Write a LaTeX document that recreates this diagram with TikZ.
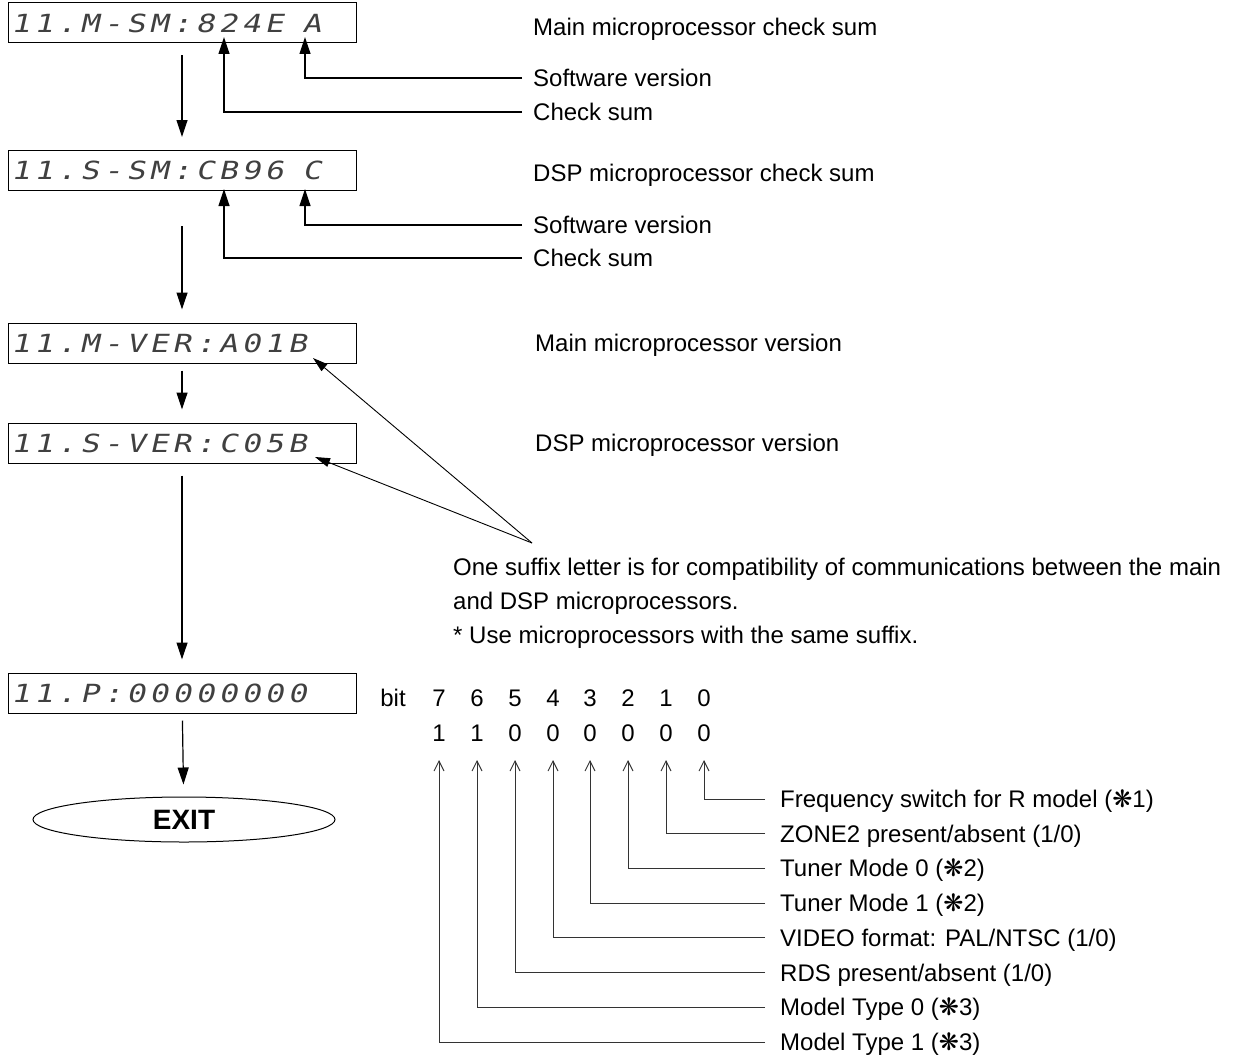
\documentclass[tikz,border=0pt]{standalone}
\usepackage{fontspec}
\setmainfont{Liberation Sans}
\newfontfamily\lcdfont[LetterSpace=17,FakeSlant=0.22,FakeStretch=1.25]{DejaVu Sans Mono}
\newfontfamily\symfont{DejaVu Sans}
\usetikzlibrary{arrows.meta,shapes.geometric}
\newcommand{\propast}{{\symfont\fontsize{24}{24}\selectfont ❋}}
\newcommand{\lcdgap}{\phantom{0}}
\begin{document}
\begin{tikzpicture}[x=1pt,y=-1pt,
  lcdbox/.style={draw, line width=1pt, minimum width=348pt, minimum height=40pt,
    text width=342pt, inner xsep=3pt, inner ysep=0pt, align=left,
    font=\lcdfont\fontsize{25}{25}\selectfont, text=black!75},
  lbl/.style={anchor=west, inner sep=0pt, font=\fontsize{24}{28}\selectfont,
    text height=17pt, text depth=0pt},
  num/.style={inner sep=0pt, font=\fontsize{24}{28}\selectfont,
    text height=17pt, text depth=0pt},
  flow/.style={line width=1.2pt, -{Triangle[length=17pt,width=11pt]}},
  callout/.style={line width=1.2pt, -{Triangle[length=17pt,width=11pt]}},
  diag/.style={line width=0.9pt, -{Triangle[length=15pt,width=9pt]}},
  bitline/.style={line width=0.9pt, draw=black!80, -{Straight Barb[length=10pt,width=10pt]}}
]
\useasboundingbox (0,0) rectangle (1233,1057);

% display boxes
\node[lcdbox] (b1) at (182,23)  {11.M-SM:824E\lcdgap A};
\node[lcdbox] (b2) at (182,170.5) {11.S-SM:CB96\lcdgap C};
\node[lcdbox] (b3) at (182,343) {11.M-VER:A01B};
\node[lcdbox] (b4) at (182,443) {11.S-VER:C05B};
\node[lcdbox] (b5) at (182,693) {11.P:00000000};
\node[draw, ellipse, line width=1pt, minimum width=302pt, minimum height=45pt, inner sep=0pt,
  font=\bfseries\fontsize{28}{30}\selectfont] (ex) at (184,819.5) {EXIT};

% flow arrows
\draw[flow, shorten <=12pt, shorten >=13pt] (b1) -- (b2);
\draw[flow, shorten <=35pt, shorten >=13pt] (b2) -- (b3);
\draw[flow, shorten <=7pt, shorten >=13pt] (b3) -- (b4);
\draw[flow, shorten <=12pt, shorten >=13pt] (b4) -- (b5);
\draw[flow, shorten <=7pt, shorten >=12pt] (b5) -- (ex);

% labels right of the boxes
\node[lbl] (m1) at (533,27) {Main microprocessor check sum};
\node[lbl] (sv1) at (533,78) {Software version};
\node[lbl] (cs1) at (533,112) {Check sum};
\node[lbl] (m2) at (533,173) {DSP microprocessor check sum};
\node[lbl] (sv2) at (533,225) {Software version};
\node[lbl] (cs2) at (533,258) {Check sum};
\node[lbl] (m3) at (535,343) {Main microprocessor version};
\node[lbl] (m4) at (535,443) {DSP microprocessor version};

\coordinate (t1a) at (305,37);
\coordinate (t1b) at (224,37);
\coordinate (t2a) at (305,189);
\coordinate (t2b) at (224,189);
\draw[callout] ([xshift=-11pt]sv1.west) -| (t1a);
\draw[callout] ([xshift=-11pt]cs1.west) -| (t1b);
\draw[callout] ([xshift=-11pt]sv2.west) -| (t2a);
\draw[callout] ([xshift=-11pt]cs2.west) -| (t2b);

% suffix note
\coordinate (conv) at (532,543);
\coordinate (t3) at (313,358);
\coordinate (t4) at (315,457);
\draw[diag] (conv) -- (t3);
\draw[diag] (conv) -- (t4);
\node[lbl] (n1) at (453,567) {One suffix letter is for compatibility of communications between the main};
\node[lbl] (n2) at (453,601) {and DSP microprocessors.};
\node[lbl] (n3) at (453,635) {* Use microprocessors with the same suffix.};

% bit table
\node[num] (bit) at (393,698) {bit};
\foreach \i/\x/\v/\y/\t in {
  7/439/1/1042/{Model Type 1 (\propast3)},
  6/477/1/1007.2/{Model Type 0 (\propast3)},
  5/515/0/972.5/{RDS present/absent (1/0)},
  4/553/0/937.8/{VIDEO format: PAL/NTSC (1/0)},
  3/590/0/903.1/{Tuner Mode 1 (\propast2)},
  2/628/0/868.4/{Tuner Mode 0 (\propast2)},
  1/666/0/833.7/{ZONE2 present/absent (1/0)},
  0/704/0/799/{Frequency switch for R model (\propast1)}}{
  \node[num] (bn\i) at (\x,698) {\i};
  \node[num] (bv\i) at (\x,733) {\v};
  \coordinate (bt\i) at (\x,760);
  \node[lbl] (bl\i) at (780,\y) {\t};
  \draw[bitline] ([xshift=-15pt]bl\i.west) -| (bt\i);
}
\end{tikzpicture}
\end{document}
